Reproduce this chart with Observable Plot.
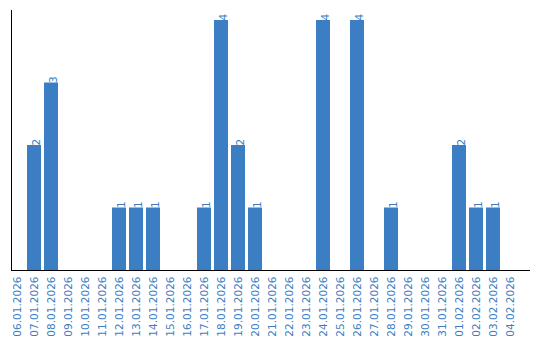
<!DOCTYPE html>
<html>
<head>
<meta charset="utf-8">
<script src="https://cdn.jsdelivr.net/npm/d3@7"></script>
<script src="https://cdn.jsdelivr.net/npm/@observablehq/plot@0.6"></script>
<style>
  html, body { margin: 0; padding: 0; background: #fff; }
  #chart svg { display: block; }
</style>
</head>
<body>
<div id="chart"></div>
<script>
const dates = [
  "06.01.2026","07.01.2026","08.01.2026","09.01.2026","10.01.2026","11.01.2026",
  "12.01.2026","13.01.2026","14.01.2026","15.01.2026","16.01.2026","17.01.2026",
  "18.01.2026","19.01.2026","20.01.2026","21.01.2026","22.01.2026","23.01.2026",
  "24.01.2026","25.01.2026","26.01.2026","27.01.2026","28.01.2026","29.01.2026",
  "30.01.2026","31.01.2026","01.02.2026","02.02.2026","03.02.2026","04.02.2026"
];
const counts = [0,2,3,0,0,0,1,1,1,0,0,1,4,2,1,0,0,0,4,0,4,0,1,0,0,0,2,1,1,0];

const blue = "#3b7ec3";
const data = dates.map((d, i) => ({date: d, count: counts[i]}));
const nonzero = data.filter(d => d.count > 0);

const chart = Plot.plot({
  width: 540,
  height: 340,
  marginLeft: 11,
  marginRight: 10,
  marginTop: 10,
  marginBottom: 70,
  style: {fontFamily: "DejaVu Sans", fontSize: "10.5px", background: "#fff"},
  x: {type: "band", domain: dates, range: [8.5, 518.5], paddingInner: 0.18, paddingOuter: 0.09, align: 0.5, label: null},
  y: {domain: [0, 4.16], label: null, axis: null},
  marks: [
    Plot.barY(nonzero, {x: "date", y: "count", fill: blue}),
    Plot.text(nonzero, {x: "date", y: "count", text: d => String(d.count), rotate: -90, textAnchor: "start", dx: 2, fill: blue, fontSize: 10.5}),
    Plot.axisX({tickRotate: -90, tickSize: 0, tickPadding: 6, fill: blue, fontSize: 10.5, label: null}),
    Plot.ruleY([0], {stroke: "#000"}),
    Plot.frame({anchor: "left", stroke: "#000"})
  ]
});
document.getElementById("chart").appendChild(chart);
</script>
</body>
</html>
